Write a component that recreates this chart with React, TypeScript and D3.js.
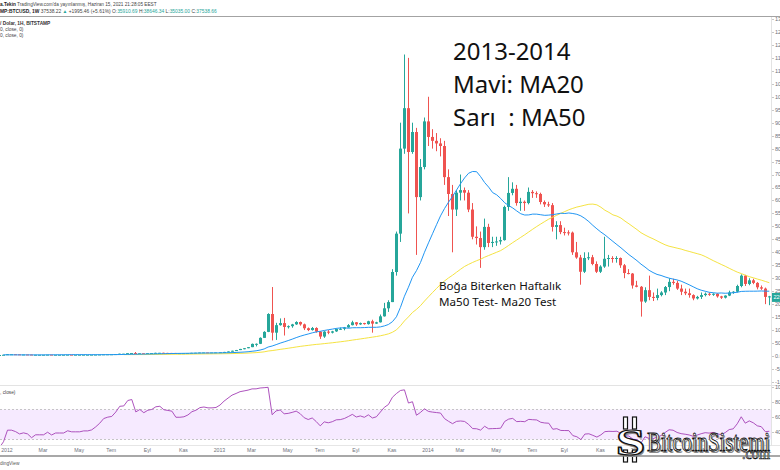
import React from 'react';
import * as d3 from 'd3';

type Bar = [number, number, number, number]; // open, high, low, close

// First weekly bar: Monday 15 Aug 2011 (BITSTAMP BTCUSD, 1W)
const firstBarDate = new Date(2011, 7, 15);

const bars2011: Bar[] = [
  [11.0, 11.5, 10.5, 11.0], [11.0, 11.3, 8.5, 8.8], [8.8, 9.0, 8.0, 8.2], [8.2, 8.5, 6.5, 6.8],
  [6.8, 7.0, 5.5, 5.8], [5.8, 6.1, 5.0, 5.3], [5.3, 5.5, 4.8, 5.1], [5.1, 5.2, 4.6, 4.8],
  [4.8, 4.9, 3.8, 4.1], [4.1, 4.2, 2.3, 3.2], [3.2, 3.6, 2.9, 3.3], [3.3, 3.4, 2.9, 3.0],
  [3.0, 3.1, 2.8, 3.0], [3.0, 3.0, 2.0, 2.2], [2.2, 2.6, 2.1, 2.5], [2.5, 3.2, 2.5, 3.0],
  [3.0, 3.2, 2.8, 3.0], [3.0, 3.4, 3.0, 3.2], [3.2, 4.0, 3.2, 3.9], [3.9, 4.8, 3.9, 4.7],
];

const bars2012: Bar[] = [
  [4.7, 7.2, 4.7, 6.8], [6.8, 7.4, 6.4, 6.8], [6.8, 7.0, 6.0, 6.4], [6.4, 6.5, 5.3, 5.7],
  [5.7, 6.2, 5.6, 5.9], [5.9, 6.0, 5.4, 5.6], [5.6, 5.7, 4.3, 4.4], [4.4, 5.1, 4.3, 4.9],
  [4.9, 5.1, 4.7, 4.9], [4.9, 5.0, 4.8, 4.9], [4.9, 5.5, 4.9, 5.3], [5.3, 5.4, 4.6, 4.6],
  [4.6, 5.0, 4.6, 4.9], [4.9, 5.0, 4.8, 4.9], [4.9, 5.0, 4.8, 4.9], [4.9, 5.3, 4.9, 5.2],
  [5.2, 5.2, 4.9, 5.0], [5.0, 5.1, 4.9, 5.0], [5.0, 5.1, 4.9, 5.0], [5.0, 5.2, 5.0, 5.1],
  [5.1, 5.2, 5.1, 5.1], [5.1, 5.3, 5.1, 5.2], [5.2, 5.6, 5.2, 5.5], [5.5, 6.1, 5.5, 5.9],
  [5.9, 6.6, 5.9, 6.5], [6.5, 6.8, 6.3, 6.7], [6.7, 7.0, 6.5, 6.8], [6.8, 7.6, 6.8, 7.5],
  [7.5, 9.0, 7.5, 8.8], [8.8, 9.0, 8.3, 8.9], [8.9, 11.0, 8.9, 10.9], [10.9, 11.6, 10.6, 11.4],
  [11.4, 15.4, 7.1, 9.8], [9.8, 10.9, 9.5, 10.6], [10.6, 11.0, 10.0, 10.1], [10.1, 11.0, 10.0, 10.9],
  [10.9, 11.3, 10.9, 11.2], [11.2, 12.6, 11.2, 12.2], [12.2, 12.4, 11.9, 12.4], [12.4, 12.9, 11.8, 11.9],
  [11.9, 12.2, 11.6, 11.8], [11.8, 11.9, 11.6, 11.7], [11.7, 11.8, 10.5, 10.8], [10.8, 11.0, 10.5, 10.8],
  [10.8, 11.0, 10.6, 10.9], [10.9, 11.5, 10.8, 11.3], [11.3, 12.3, 11.3, 12.1], [12.1, 12.6, 12.0, 12.5],
  [12.5, 13.5, 12.5, 13.3], [13.3, 13.6, 13.2, 13.5], [13.5, 13.6, 13.2, 13.4], [13.4, 13.5, 13.2, 13.4],
  [13.4, 13.8, 13.2, 13.5],
];

const bars2013: Bar[] = [
  [13.5, 14.5, 13.3, 14.2], [14.2, 16.0, 14.2, 15.7], [15.7, 17.9, 15.7, 17.5], [17.5, 20.5, 17.4, 20.3],
  [20.3, 23.4, 19.8, 22.8], [22.8, 27.5, 22.8, 27.2], [27.2, 30.5, 25.9, 30.0], [30.0, 34.5, 30.0, 34.2],
  [34.2, 48.0, 34.0, 46.7], [46.7, 48.4, 37.0, 47.0], [47.0, 72.0, 46.0, 70.0], [70.0, 95.7, 70.0, 93.0],
  [93, 165, 92, 162], [162, 266, 60, 90], [90, 128, 62, 119], [119, 145, 117, 127],
  [127, 147, 79, 112], [112, 118, 106, 115], [115, 124, 109, 122], [122, 134, 120, 131],
  [131, 133, 117, 122], [122, 125, 100, 107], [107, 110, 96, 100], [100, 112, 98, 108],
  [108, 111, 90, 94], [94, 96, 66, 75], [75, 96, 70, 94], [94, 100, 84, 90],
  [90, 97, 87, 95], [95, 106, 93, 104], [104, 110, 101, 105], [105, 112, 99, 110],
  [110, 123, 109, 119], [119, 136, 118, 130], [130, 131, 116, 122], [122, 129, 120, 127],
  [127, 128, 121, 123], [123, 136, 121, 134], [134, 140, 90, 125], [125, 132, 124, 130],
  [130, 160, 129, 153], [153, 205, 152, 184], [184, 215, 170, 208], [208, 335, 208, 324],
  [324, 480, 310, 472], [472, 900, 440, 800], [800, 1163, 780, 956], [956, 1150, 550, 787],
  [787, 900, 780, 864], [864, 880, 390, 613], [613, 760, 600, 729], [729, 920, 720, 905],
];

const bars2014: Bar[] = [
  [905, 1000, 810, 845], [845, 875, 800, 830], [830, 860, 790, 820], [820, 840, 770, 810],
  [810, 830, 660, 690], [690, 720, 540, 625], [625, 660, 400, 565], [565, 640, 540, 630],
  [630, 700, 600, 640], [640, 650, 600, 630], [630, 640, 555, 565], [565, 590, 450, 460],
  [460, 500, 430, 455], [455, 480, 340, 420], [420, 530, 410, 498], [498, 510, 420, 436],
  [436, 460, 420, 440], [440, 460, 425, 442], [442, 460, 430, 447], [447, 580, 445, 575],
  [575, 690, 560, 629], [629, 670, 620, 645], [645, 660, 580, 590], [590, 610, 560, 595],
  [595, 600, 560, 590], [590, 650, 585, 633], [633, 640, 610, 628], [628, 635, 610, 625],
  [625, 630, 585, 594], [594, 600, 575, 585], [585, 595, 575, 582], [582, 590, 480, 498],
  [498, 520, 450, 505], [505, 520, 470, 478], [478, 495, 465, 477], [477, 485, 465, 476],
  [476, 480, 390, 400], [400, 440, 375, 380], [380, 390, 275, 325], [325, 400, 320, 378],
  [378, 400, 370, 381], [381, 390, 350, 355], [355, 365, 320, 325], [325, 350, 320, 345],
  [345, 460, 340, 375], [375, 390, 345, 378], [378, 385, 360, 376], [376, 385, 360, 378],
  [378, 380, 340, 350], [350, 355, 300, 320], [320, 335, 315, 318], [318, 320, 260, 272],
];

const bars2015: Bar[] = [
  [272, 290, 265, 267], [267, 270, 152, 210], [210, 265, 205, 254], [254, 310, 215, 228],
  [228, 245, 212, 224], [224, 260, 215, 235], [235, 250, 230, 245], [245, 270, 235, 266],
  [266, 300, 250, 286], [286, 298, 275, 282], [282, 290, 255, 260], [260, 275, 235, 248],
  [248, 260, 235, 242], [242, 260, 225, 235], [235, 238, 215, 222], [222, 232, 218, 228],
  [228, 245, 220, 235], [235, 245, 230, 240], [240, 245, 232, 237], [237, 242, 232, 240],
  [240, 242, 225, 230], [230, 232, 220, 225], [225, 234, 222, 233], [233, 252, 231, 245],
  [245, 250, 240, 248], [248, 275, 245, 270], [270, 315, 265, 310], [310, 313, 270, 278],
  [278, 300, 273, 292], [292, 298, 277, 282], [282, 285, 257, 265], [265, 272, 255, 260],
  [260, 264, 200, 228], [228, 232, 196, 230],
];

const priceTicks = [1300, 1250, 1200, 1150, 1100, 1050, 1000, 950, 900, 850, 800, 750, 700, 650,
  600, 550, 500, 450, 400, 350, 300, 250, 200, 150, 100, 50, 0, -50, -100];
const rsiTicks = [100, 80, 60, 40];
const timeLabels: [string, number, number][] = [
  ['2012', 2012, 0], ['Mar', 2012, 2], ['May', 2012, 4], ['Tem', 2012, 6], ['Eyl', 2012, 8], ['Kas', 2012, 10],
  ['2013', 2013, 0], ['Mar', 2013, 2], ['May', 2013, 4], ['Tem', 2013, 6], ['Eyl', 2013, 8], ['Kas', 2013, 10],
  ['2014', 2014, 0], ['Mar', 2014, 2], ['May', 2014, 4], ['Tem', 2014, 6], ['Eyl', 2014, 8], ['Kas', 2014, 10],
  ['2015', 2015, 0], ['Mar', 2015, 2], ['May', 2015, 4], ['Tem', 2015, 6],
];
const maPeriods = [20, 50];
const rsiPeriod = 14;
const lastPriceLabel = 226;

const UP = '#26a69a';
const DOWN = '#ef5350';
const AXIS_FONT = 'Liberation Sans, Arial, sans-serif';

function sma(values: number[], n: number): (number | null)[] {
  return values.map((_, i) => (i < n - 1 ? null : d3.mean(values.slice(i - n + 1, i + 1)) as number));
}

function rsi(values: number[], n: number): (number | null)[] {
  const out: (number | null)[] = values.map(() => null);
  let g = 0, l = 0;
  for (let i = 1; i <= n; i++) {
    const d = values[i] - values[i - 1];
    if (d > 0) g += d; else l -= d;
  }
  g /= n; l /= n;
  out[n] = l === 0 ? 100 : 100 - 100 / (1 + g / l);
  for (let i = n + 1; i < values.length; i++) {
    const d = values[i] - values[i - 1];
    g = (g * (n - 1) + Math.max(d, 0)) / n;
    l = (l * (n - 1) + Math.max(-d, 0)) / n;
    out[i] = l === 0 ? 100 : 100 - 100 / (1 + g / l);
  }
  return out;
}

export default function App() {
  const bars = [...bars2011, ...bars2012, ...bars2013, ...bars2014, ...bars2015];
  const closes = bars.map(b => b[3]);
  const dates = bars.map((_, i) => d3.timeMonday.offset(firstBarDate, i));

  const x = d3.scaleLinear().domain([20, 125]).range([7, 428]);
  const y = d3.scaleLinear().domain([0, 1300]).range([356, 19]);
  const yR = d3.scaleLinear().domain([0, 100]).range([462, 387]);

  const ma20 = sma(closes, maPeriods[0]);
  const ma50 = sma(closes, maPeriods[1]);
  const rsiVals = rsi(closes, rsiPeriod);

  const mkLine = (vals: (number | null)[], sc: d3.ScaleLinear<number, number>) =>
    d3.line<number | null>()
      .defined(v => v !== null)
      .x((_, i) => x(i) + 0.5)
      .y(v => sc(v as number))
      .curve(d3.curveLinear)(vals) || '';

  const labelPos = timeLabels.map(([t, yr, m]) => {
    const start = new Date(yr, m, 1);
    const idx = dates.findIndex(d => d >= start);
    return { t, xx: x(idx) };
  });

  return (
    <svg width={780} height={470} style={{ position: 'absolute', left: 0, top: 0, background: '#fff' }}
      xmlns="http://www.w3.org/2000/svg">
      <defs>
        <clipPath id="mainClip"><rect x={0} y={17} width={771} height={368} /></clipPath>
        <clipPath id="rsiClip"><rect x={0} y={386} width={771} height={59} /></clipPath>
      </defs>
      <rect x={0} y={0} width={780} height={470} fill="#fff" />

      {/* header */}
      <text x={0} y={6.3} fontFamily={AXIS_FONT} fontSize={4.7} fill="#444">
        <tspan fontWeight="bold" fill="#222">a.Tekin</tspan>
        <tspan> TradingView.com'da yayınlanmış, Haziran 15, 2021 21:28:05 EEST</tspan>
      </text>
      <text x={0} y={12.6} fontFamily={AXIS_FONT} fontSize={4.9} fill="#444">
        <tspan fontWeight="bold" fill="#222">MP:BTCUSD, 1W</tspan>
        <tspan> 37538.22 </tspan><tspan fill={UP}>▲</tspan><tspan> +1995.46 (+5.61%) O:</tspan>
        <tspan fill={UP}>35910.69</tspan><tspan> H:</tspan><tspan fill={UP}>38646.34</tspan>
        <tspan> L:</tspan><tspan fill={UP}>35035.00</tspan><tspan> C:</tspan><tspan fill={UP}>37538.66</tspan>
      </text>
      <line x1={0} x2={780} y1={16.5} y2={16.5} stroke="#a3a3a3" strokeWidth={1} />

      {/* pane separators and axis line */}
      <line x1={0} x2={780} y1={385.5} y2={385.5} stroke="#e3e3e3" strokeWidth={1} />
      <line x1={0} x2={780} y1={445.5} y2={445.5} stroke="#e6e6e6" strokeWidth={1} />
      <line x1={771.5} x2={771.5} y1={17} y2={446} stroke="#e3e3e3" strokeWidth={1} />

      {/* main pane */}
      <g clipPath="url(#mainClip)">
        {bars.map((b, i) => {
          const [o, h, l, c] = b;
          const cx = Math.round(x(i));
          const col = c >= o ? UP : DOWN;
          const top = y(Math.max(o, c));
          const bh = Math.max(1, y(Math.min(o, c)) - top);
          return (
            <g key={i}>
              <line x1={cx + 0.5} x2={cx + 0.5} y1={y(h)} y2={y(l)} stroke={col} strokeWidth={1} />
              <rect x={cx - 1} y={top} width={3} height={bh} fill={col} />
            </g>
          );
        })}
        <path d={mkLine(ma50, y)} fill="none" stroke="#f5e342" strokeWidth={1} />
        <path d={mkLine(ma20, y)} fill="none" stroke="#2196f3" strokeWidth={1} />
      </g>

      {/* legends */}
      <text x={0} y={25.3} fontFamily={AXIS_FONT} fontSize={4.8} fontWeight="bold" fill="#333">/ Dolar, 1H, BITSTAMP</text>
      <text x={0} y={31.3} fontFamily={AXIS_FONT} fontSize={4.8} fill="#444">0, close, 0)</text>
      <text x={0} y={37.3} fontFamily={AXIS_FONT} fontSize={4.8} fill="#444">0, close, 0)</text>

      {/* annotations */}
      <g fontFamily="Noto Sans, Open Sans, sans-serif" fill="#111">
        <text x={453} y={60} fontSize={24}>2013-2014</text>
        <text x={453} y={93} fontSize={24}>Mavi: MA20</text>
        <text x={453} y={126} fontSize={24} xmlSpace="preserve">Sarı  : MA50</text>
        <text x={439} y={289.5} fontSize={11.6}>Boğa Biterken Haftalık</text>
        <text x={439} y={305.5} fontSize={11.6}>Ma50 Test- Ma20 Test</text>
      </g>

      {/* price axis */}
      <g fontFamily={AXIS_FONT} fontSize={5.6} fill="#6f737d">
        {priceTicks.map(v => (
          <g key={v}>
            <line x1={772} x2={774} y1={Math.round(y(v)) + 0.5} y2={Math.round(y(v)) + 0.5} stroke="#c8c8c8" />
            <text x={775} y={y(v)} dy="0.35em">{v.toFixed(2)}</text>
          </g>
        ))}
        {rsiTicks.map(v => (
          <g key={'r' + v}>
            <line x1={772} x2={774} y1={Math.round(yR(v)) + 0.5} y2={Math.round(yR(v)) + 0.5} stroke="#c8c8c8" />
            <text x={775} y={yR(v)} dy="0.35em">{v.toFixed(2)}</text>
          </g>
        ))}
      </g>
      <rect x={772} y={y(lastPriceLabel) - 4.5} width={10} height={9} fill={UP} />
      <text x={773.5} y={y(lastPriceLabel)} dy="0.35em" fontFamily={AXIS_FONT} fontSize={5.6} fill="#fff">{lastPriceLabel.toFixed(2)}</text>

      {/* RSI pane */}
      <g clipPath="url(#rsiClip)">
        <rect x={0} y={yR(70)} width={771} height={yR(30) - yR(70)} fill="#9915ff" fillOpacity={0.09} />
        <line x1={0} x2={771} y1={yR(70)} y2={yR(70)} stroke="#b9b9b9" strokeDasharray="2,2" strokeWidth={0.8} />
        <line x1={0} x2={771} y1={yR(30)} y2={yR(30)} stroke="#b9b9b9" strokeDasharray="2,2" strokeWidth={0.8} />
        <path d={mkLine(rsiVals, yR)} fill="none" stroke="#a43fb5" strokeWidth={0.9} />
      </g>
      <text x={0} y={394} fontFamily={AXIS_FONT} fontSize={4.8} fill="#444">, close)</text>

      {/* time axis */}
      <g fontFamily={AXIS_FONT} fontSize={5.2} fill="#6f737d" textAnchor="middle">
        {labelPos.map((p, i) => (
          <text key={i} x={p.xx} y={452}>{p.t}</text>
        ))}
      </g>
      <line x1={0} x2={780} y1={456} y2={456} stroke="#a8a8a8" strokeWidth={2} />
      <text x={0} y={465} fontFamily={AXIS_FONT} fontSize={4.8} fill="#555">dingView</text>

      {/* watermark logo */}
      <g>
        <g stroke="#111" strokeWidth={1.2} fill="#fff">
          <rect x={623.5} y={417} width={4} height={12} />
          <rect x={632.5} y={417} width={4} height={12} />
          <rect x={623.5} y={450} width={4} height={12} />
          <rect x={632.5} y={450} width={4} height={12} />
        </g>
        <g transform="translate(630.5,455) scale(1.4,1)">
          <text x={1} y={1.5} textAnchor="middle" fontFamily="Liberation Serif, serif" fontWeight="bold" fontSize={38} fill="#8a8a8a">S</text>
          <text x={0} y={0} textAnchor="middle" fontFamily="Liberation Serif, serif" fontWeight="bold" fontSize={38} fill="#fff" stroke="#111" strokeWidth={1.2}>S</text>
        </g>
        <text x={648.5} y={452.5} fontFamily="Liberation Serif, serif" fontSize={27} textLength={123} lengthAdjust="spacingAndGlyphs" fill="#8a8a8a">BitcoinSistemi</text>
        <text x={647} y={451} fontFamily="Liberation Serif, serif" fontSize={27} textLength={123} lengthAdjust="spacingAndGlyphs" fill="#fff" stroke="#111" strokeWidth={0.9}>BitcoinSistemi</text>
        <text x={742} y={459} fontFamily="Liberation Serif, serif" fontSize={16} textLength={28} lengthAdjust="spacingAndGlyphs" fill="#fff" stroke="#111" strokeWidth={0.7}>.com</text>
      </g>
    </svg>
  );
}
